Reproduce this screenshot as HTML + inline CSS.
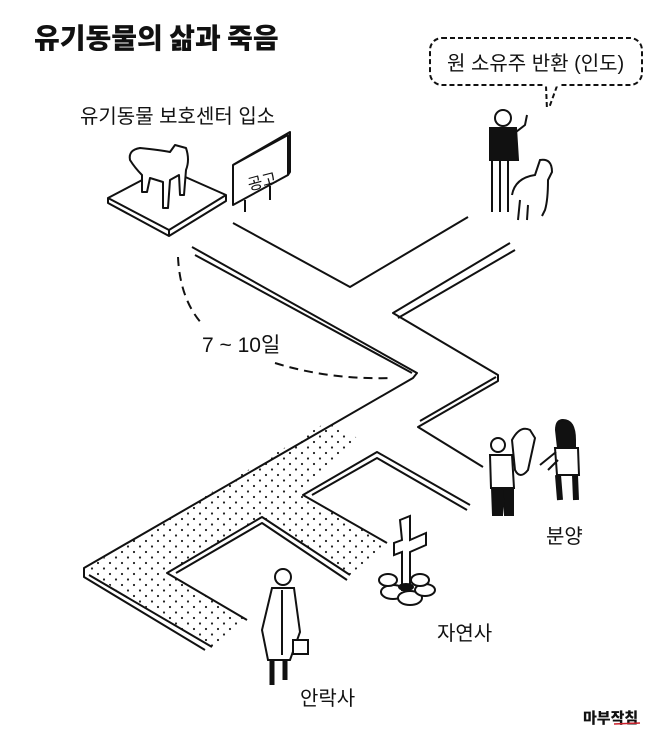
<!DOCTYPE html>
<html><head><meta charset="utf-8"><style>
html,body{margin:0;padding:0;background:#fff;}
svg{display:block}
text{font-family:"Liberation Sans","Noto Sans CJK KR",sans-serif;fill:#111}
</style></head><body>
<svg width="658" height="746" viewBox="0 0 658 746" xmlns="http://www.w3.org/2000/svg">
<defs>
<pattern id="dots" width="12" height="11" patternUnits="userSpaceOnUse">
<circle cx="2" cy="2" r="1.1" fill="#222"/><circle cx="8" cy="7.5" r="1.1" fill="#222"/>
</pattern>
</defs>
<text x="34" y="48" font-size="28" font-weight="900" style="font-family:'Noto Sans CJK KR',sans-serif;font-weight:900">유기동물의 삶과 죽음</text>
<text x="80" y="123" font-size="20">유기동물 보호센터 입소</text>

<!-- speech bubble -->
<rect x="430" y="38" width="212" height="47" rx="12" fill="#fff" stroke="#111" stroke-width="2" stroke-dasharray="5 3"/>
<path d="M546 86 L547 110 M557 86 L549 108" stroke="#111" stroke-width="2" stroke-dasharray="5 3" fill="none"/>
<line x1="544" y1="85" x2="559" y2="85" stroke="#fff" stroke-width="3"/>
<text x="447" y="70" font-size="20">원 소유주 반환 (인도)</text>

<!-- dotted region -->
<path d="M84 570 L330 420 L360 440 L303 495 L387 543 L350 575 L262 517 L167 573 L247 620 L212 647 Z" fill="url(#dots)"/>

<g stroke="#111" stroke-width="2" fill="none" stroke-linejoin="round">
<polyline points="233,223 350,287 468,217"/>
<polyline points="192,247 417,373 413,378 84,568 84,577 205,650"/>
<polyline points="195,255 412,373"/>
<polyline points="89,575 212,647"/>
<polyline points="510,243 393,313 498,375 498,381 418,427 483,467"/>
<polyline points="515,250 398,318"/>
<polyline points="496,377 420,421"/>
<polyline points="470,505 377,452 303,495 387,543"/>
<polyline points="467,510 377,458 312,495"/>
<polyline points="350,575 262,517 167,573 247,620"/>
<polyline points="347,580 262,523 176,573"/>

<path d="M178 257 Q180 300 203 325" stroke-dasharray="9 6"/>
<path d="M275 363 Q330 380 392 378" stroke-dasharray="9 6"/>

<polygon points="108,198 165,168 226,195 169,230" fill="#fff"/>
<polyline points="108,198 108,203 169,236 226,201 226,195"/>
<line x1="169" y1="230" x2="169" y2="236"/>
<path d="M130 160 Q128 150 140 148 Q160 150 170 152 L175 145 L186 148 Q190 160 186 170 L184 195 L180 195 L179 175 L170 180 L168 208 L163 208 L163 182 L150 178 L147 192 L142 192 L142 175 Q135 168 130 160 Z" fill="#fff"/>
<polygon points="233,165 288,135 288,175 233,205" fill="#fff"/>
<polyline points="233,165 238,162 290,132 290,172 288,175"/>
<line x1="245" y1="200" x2="245" y2="212"/><line x1="270" y1="186" x2="270" y2="200"/>
</g>
<text x="247" y="188" font-size="16" transform="rotate(-15 258 180)">공고</text>

<g stroke="#111" stroke-width="2">
<circle cx="503" cy="118" r="8" fill="#fff"/>
<path d="M490 128 L516 128 L518 160 L490 160 Z" fill="#111"/>
<path d="M516 132 L525 125 L527 115" fill="none"/>
<path d="M492 160 L492 212 M500 160 L500 212 M508 160 L508 212" fill="none"/>
<path d="M512 195 Q515 178 535 175 L540 160 Q552 158 552 172 L548 180 Q548 200 545 210 L542 216 M520 200 L518 220 M528 205 L527 220" fill="#fff"/>
</g>

<text x="202" y="352" font-size="21">7 ~ 10일</text>

<g stroke="#111" stroke-width="2">
<circle cx="498" cy="445" r="7" fill="#fff"/>
<path d="M490 455 L512 455 L514 488 L491 488 Z" fill="#fff"/>
<path d="M492 488 L493 515 L502 515 L502 490 L505 515 L513 515 L513 488" fill="#111"/>
<path d="M512 440 Q520 425 530 430 L535 438 L528 470 Q520 480 515 470 Z" fill="#fff"/>
<path d="M563 420 Q575 420 575 440 L575 448 L558 448 L556 430 Q556 420 563 420 Z" fill="#111"/>
<path d="M555 448 L578 448 L579 475 L557 475 Z" fill="#fff"/>
<path d="M558 475 L560 500 M575 475 L576 500" stroke-width="6"/>
<path d="M556 452 L540 465 M558 460 L548 470" fill="none"/>
</g>
<text x="546" y="543" font-size="20">분양</text>

<g stroke="#111" stroke-width="2" fill="#fff">
<ellipse cx="393" cy="592" rx="12" ry="7"/><ellipse cx="410" cy="598" rx="12" ry="7"/><ellipse cx="425" cy="590" rx="10" ry="6"/><ellipse cx="388" cy="580" rx="9" ry="6"/><ellipse cx="420" cy="580" rx="9" ry="6"/>
<path d="M400 520 L410 516 L410 540 L426 533 L426 545 L410 552 L410 590 L402 590 L402 552 L394 555 L394 543 L402 540 Z"/>
</g>
<ellipse cx="406" cy="587" rx="8" ry="4" fill="#111"/>
<text x="437" y="640" font-size="20">자연사</text>

<g stroke="#111" stroke-width="2">
<circle cx="283" cy="577" r="8" fill="#fff"/>
<path d="M272 588 L294 588 L300 632 L290 660 L268 660 L262 630 Z" fill="#fff"/>
<path d="M282 590 L282 655" fill="none"/>
<path d="M272 660 L272 685 M285 660 L285 680" stroke-width="5"/>
<rect x="293" y="640" width="15" height="14" fill="#fff"/>
</g>
<text x="300" y="705" font-size="20">안락사</text>

<text x="583" y="723" font-size="15" font-weight="900" style="font-family:'Noto Sans CJK KR',sans-serif;font-weight:900">마부작침</text>
<line x1="614" y1="724" x2="640" y2="723" stroke="#c8202a" stroke-width="1.5"/>
</svg>
</body></html>
